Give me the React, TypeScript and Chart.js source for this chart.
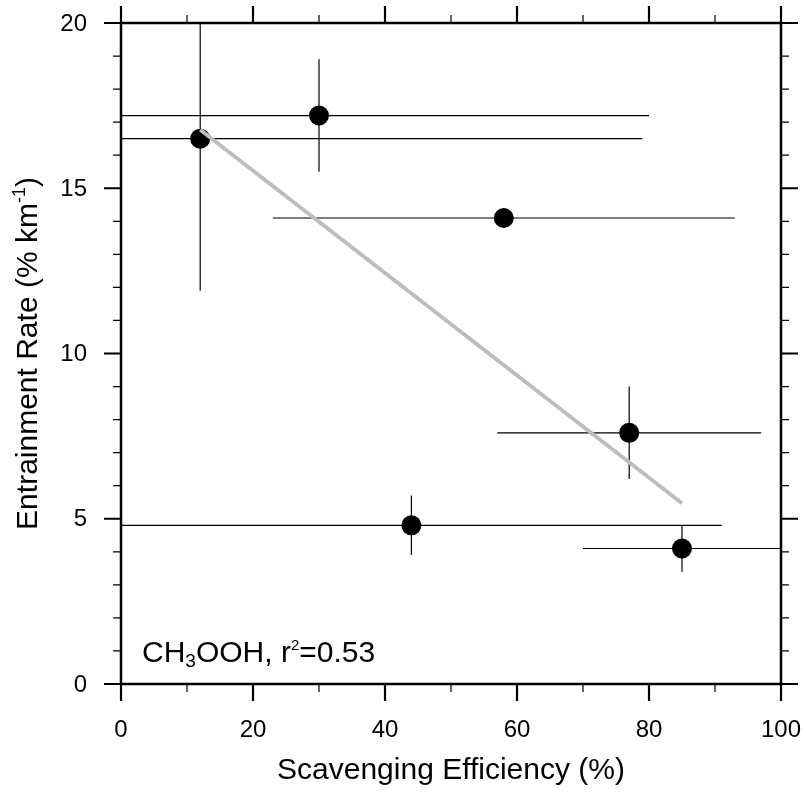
import React, { useEffect, useRef } from "react";
import { Chart, registerables } from "chart.js";

Chart.register(...registerables);

// Scavenging efficiency (%) and entrainment rate (% km^-1)
const xValues = [12, 30, 58, 77, 44, 85];
const yValues = [16.5, 17.2, 14.1, 7.6, 4.8, 4.1];
const xErrLow = [0, 0, 23, 57, 0, 70];
const xErrHigh = [79, 80, 93, 97, 91, 100];
const yErrLow = [11.9, 15.5, 14.1, 6.2, 3.9, 3.4];
const yErrHigh = [21.1, 18.9, 14.1, 9.0, 5.7, 4.8];

// Linear fit end points
const fitX = [12, 85];
const fitY = [16.77, 5.47];

const xMajorTicks = [0, 20, 40, 60, 80, 100];
const xMinorTicks = [10, 30, 50, 70, 90];
const yMajorTicks = [0, 5, 10, 15, 20];
const yMinorTicks = [1, 2, 3, 4, 6, 7, 8, 9, 11, 12, 13, 14, 16, 17, 18, 19];

const FONT = '"Liberation Sans", Arial, Helvetica, sans-serif';

type Part = { text: string; size: number; dy?: number };

function richWidth(ctx: CanvasRenderingContext2D, parts: Part[]) {
  let w = 0;
  for (const p of parts) {
    ctx.font = `${p.size}px ${FONT}`;
    w += ctx.measureText(p.text).width;
  }
  return w;
}

function drawRich(
  ctx: CanvasRenderingContext2D,
  parts: Part[],
  x: number,
  y: number,
  align: "left" | "center"
) {
  const w = richWidth(ctx, parts);
  let cx = align === "center" ? x - w / 2 : x;
  ctx.textAlign = "left";
  ctx.textBaseline = "alphabetic";
  for (const p of parts) {
    ctx.font = `${p.size}px ${FONT}`;
    ctx.fillText(p.text, cx, y + (p.dy || 0));
    cx += ctx.measureText(p.text).width;
  }
}

const errorBarsPlugin = {
  id: "errorBars",
  beforeDatasetsDraw(chart: any) {
    const { ctx, chartArea: a } = chart;
    const x = chart.scales.x;
    const y = chart.scales.y;
    ctx.save();
    ctx.beginPath();
    ctx.rect(a.left, a.top, a.right - a.left, a.bottom - a.top);
    ctx.clip();
    ctx.strokeStyle = "#000";
    ctx.lineWidth = 1.2;
    for (let i = 0; i < xValues.length; i++) {
      const px = x.getPixelForValue(xValues[i]);
      const py = y.getPixelForValue(yValues[i]);
      ctx.beginPath();
      ctx.moveTo(x.getPixelForValue(xErrLow[i]), py);
      ctx.lineTo(x.getPixelForValue(xErrHigh[i]), py);
      ctx.moveTo(px, y.getPixelForValue(yErrLow[i]));
      ctx.lineTo(px, y.getPixelForValue(yErrHigh[i]));
      ctx.stroke();
    }
    ctx.restore();
  },
};

const framePlugin = {
  id: "frame",
  afterDraw(chart: any) {
    const { ctx, chartArea: a } = chart;
    const x = chart.scales.x;
    const y = chart.scales.y;
    ctx.save();
    ctx.strokeStyle = "#000";
    ctx.fillStyle = "#000";

    // frame
    ctx.lineWidth = 2.5;
    ctx.strokeRect(a.left, a.top, a.right - a.left, a.bottom - a.top);

    const majorLen = 17;
    const minorLen = 8;

    // x ticks (bottom + top, outward)
    for (const v of xMajorTicks) {
      const px = x.getPixelForValue(v);
      ctx.lineWidth = 2.2;
      ctx.beginPath();
      ctx.moveTo(px, a.bottom);
      ctx.lineTo(px, a.bottom + majorLen);
      ctx.moveTo(px, a.top);
      ctx.lineTo(px, a.top - majorLen);
      ctx.stroke();
    }
    for (const v of xMinorTicks) {
      const px = x.getPixelForValue(v);
      ctx.lineWidth = 1.2;
      ctx.beginPath();
      ctx.moveTo(px, a.bottom);
      ctx.lineTo(px, a.bottom + minorLen);
      ctx.moveTo(px, a.top);
      ctx.lineTo(px, a.top - minorLen);
      ctx.stroke();
    }
    // y ticks (left + right, outward)
    for (const v of yMajorTicks) {
      const py = y.getPixelForValue(v);
      ctx.lineWidth = 2.2;
      ctx.beginPath();
      ctx.moveTo(a.left, py);
      ctx.lineTo(a.left - majorLen, py);
      ctx.moveTo(a.right, py);
      ctx.lineTo(a.right + majorLen, py);
      ctx.stroke();
    }
    for (const v of yMinorTicks) {
      const py = y.getPixelForValue(v);
      ctx.lineWidth = 1.2;
      ctx.beginPath();
      ctx.moveTo(a.left, py);
      ctx.lineTo(a.left - minorLen, py);
      ctx.moveTo(a.right, py);
      ctx.lineTo(a.right + minorLen, py);
      ctx.stroke();
    }

    // tick labels
    ctx.font = `24px ${FONT}`;
    ctx.textAlign = "center";
    ctx.textBaseline = "alphabetic";
    for (const v of xMajorTicks) {
      ctx.fillText(String(v), x.getPixelForValue(v), 737);
    }
    ctx.textAlign = "right";
    ctx.textBaseline = "middle";
    for (const v of yMajorTicks) {
      ctx.fillText(String(v), a.left - 34, y.getPixelForValue(v) + 1);
    }

    // x title
    ctx.fillStyle = "#000";
    drawRich(ctx, [{ text: "Scavenging Efficiency (%)", size: 30 }], (a.left + a.right) / 2, 779, "center");

    // y title
    ctx.save();
    ctx.translate(37, (a.top + a.bottom) / 2);
    ctx.rotate(-Math.PI / 2);
    drawRich(
      ctx,
      [
        { text: "Entrainment Rate (% km", size: 30 },
        { text: "-1", size: 18, dy: -12 },
        { text: ")", size: 30 },
      ],
      0,
      0,
      "center"
    );
    ctx.restore();

    // annotation
    drawRich(
      ctx,
      [
        { text: "CH", size: 30 },
        { text: "3", size: 19, dy: 5 },
        { text: "OOH, r", size: 30 },
        { text: "2", size: 15, dy: -12 },
        { text: "=0.53", size: 30 },
      ],
      142,
      662,
      "left"
    );

    ctx.restore();
  },
};

export default function App() {
  const canvasRef = useRef<HTMLCanvasElement | null>(null);

  useEffect(() => {
    const canvas = canvasRef.current;
    if (!canvas) return;
    const points = xValues.map((v, i) => ({ x: v, y: yValues[i] }));
    const fit = fitX.map((v, i) => ({ x: v, y: fitY[i] }));
    const chart = new Chart(canvas, {
      type: "scatter",
      data: {
        datasets: [
          {
            label: "fit",
            data: fit,
            showLine: true,
            borderColor: "#bdbdbd",
            borderWidth: 4,
            pointRadius: 0,
            order: 0,
          },
          {
            label: "obs",
            data: points,
            pointRadius: 10,
            pointBackgroundColor: "#000",
            pointBorderColor: "#000",
            pointBorderWidth: 0,
            order: 1,
          },
        ],
      },
      options: {
        responsive: true,
        maintainAspectRatio: false,
        animation: false,
        layout: { padding: { left: 121, top: 23, right: 25, bottom: 109 } },
        scales: {
          x: { type: "linear", min: 0, max: 100, display: false },
          y: { type: "linear", min: 0, max: 20, display: false },
        },
        plugins: {
          legend: { display: false },
          tooltip: { enabled: false },
        },
      },
      plugins: [errorBarsPlugin, framePlugin],
    });
    return () => chart.destroy();
  }, []);

  return (
    <div
      style={{
        position: "fixed",
        left: 0,
        top: 0,
        width: "806px",
        height: "793px",
        background: "#fff",
      }}
    >
      <canvas ref={canvasRef} />
    </div>
  );
}
